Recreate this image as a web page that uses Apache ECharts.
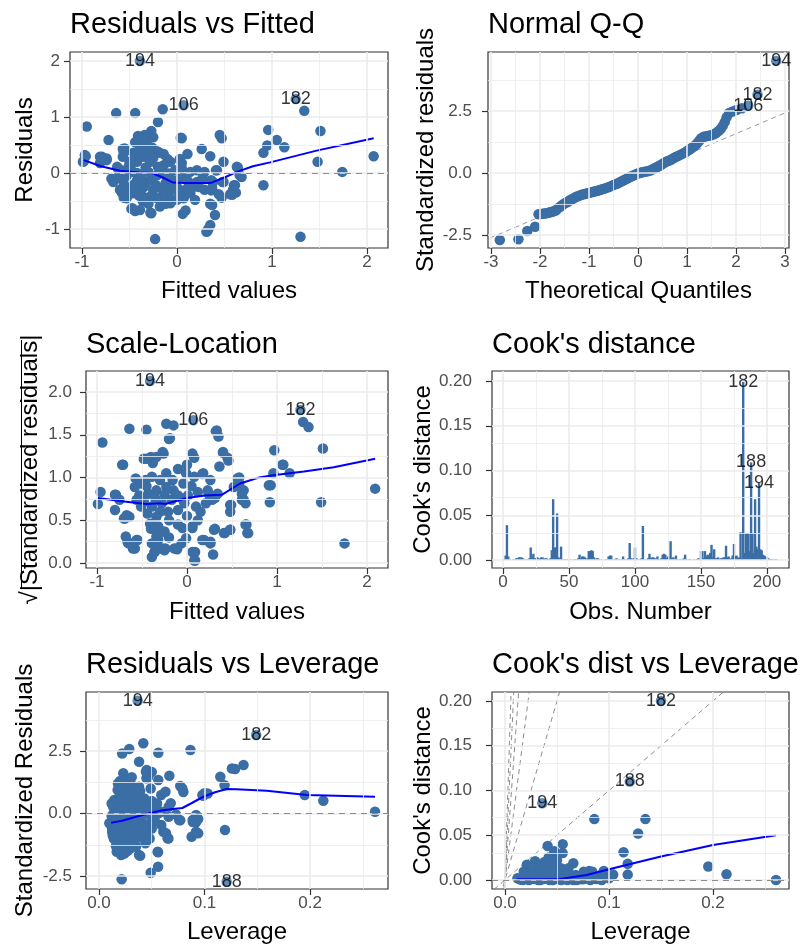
<!DOCTYPE html>
<html><head><meta charset="utf-8">
<script src="https://cdn.jsdelivr.net/npm/echarts@6.0.0/dist/echarts.min.js"></script>
<style>html,body{margin:0;padding:0;background:#fff}#c{width:805px;height:951px}</style>
</head><body><div id="c"></div>
<script>
// ---------- DATA ----------
// Panel 1: Residuals vs Fitted  [fitted, residual]
const rvfPoints = [[-0.95,0.83],[-0.96,0.30],[-0.98,0.21],[-0.99,0.20],[-0.97,0.32],
[-0.64,1.07],[-0.44,1.07],[-0.15,1.14],[-0.20,0.91],[-0.72,0.59],[0.04,0.63],[-0.27,0.75],[-0.25,0.64],[-0.41,0.66],[-0.36,0.64],[-0.34,0.68],
[0.45,0.68],[0.47,0.62],[0.26,0.43],[0.35,0.30],[0.11,0.34],[0.03,0.25],[0.05,0.18],[0.49,0.20],[0.41,0.05],[0.64,0.10],[0.66,-0.04],
[0.38,-0.16],[0.48,-0.16],[0.36,-0.31],[0.60,-0.22],[0.62,-0.35],[0.56,-0.38],[0.44,-0.38],[0.47,-0.44],[0.35,-0.55],[0.40,-0.75],[0.35,-0.93],[0.33,-1.00],[0.32,-1.04],
[-0.23,-1.18],[0.06,-0.73],[0.09,-0.67],[-0.48,-0.64],[-0.44,-0.68],[-0.27,-0.72],[-0.36,-0.50],[-0.56,-0.44],[-0.54,-0.26],[-0.68,-0.11],[-0.63,-0.09],
[-0.81,0.29],[-0.81,0.18],[-0.74,0.26],[-0.55,0.44],[-0.56,0.36],[-0.42,0.35],[-0.36,0.47],[-0.32,0.29],[-0.63,0.11],[-0.49,0.11],[-0.60,0.06],
[0.96,0.77],[1.05,0.59],[0.95,0.49],[0.91,0.36],[1.13,0.46],[1.51,0.75],[1.34,1.11],[1.48,0.20],[1.74,0.02],[2.07,0.30],[0.91,-0.22],[1.30,-1.14],
[-0.57,0.43],[-0.39,0.47],[-0.32,0.54],[-0.26,0.45],[-0.18,0.36],[-0.14,0.34],[-0.21,0.39],[-0.46,0.36],[-0.36,0.29],[-0.42,0.20],[-0.57,0.29],[-0.79,0.29],[-0.74,0.23],
[0.05,0.62],[0.03,0.23],[0.05,0.09],[0.21,0.05],[0.29,0.02],[0.27,-0.09],[0.37,-0.27],[0.36,-0.13],[0.42,0.05],[0.63,0.11],[0.68,-0.07],[0.49,-0.16],[0.61,-0.22],[0.59,-0.30],[0.58,-0.39],[0.37,-0.57],[0.31,-1.05],
[-0.47,-0.63],[-0.39,-0.66],[-0.28,-0.71],[-0.18,-0.60],[-0.32,-0.51],[-0.53,-0.45],[-0.51,-0.27],[-0.67,-0.16],[-0.69,-0.10],[-0.62,-0.07],[-0.53,-0.05],[-0.42,0.0],[-0.30,0.02],[-0.21,-0.04],[-0.11,-0.07],[-0.04,-0.13],[0.00,-0.25],[-0.07,-0.30],[-0.14,-0.36],[-0.25,-0.30],[-0.35,-0.25],[-0.42,-0.30],[-0.47,-0.36],[-0.36,-0.42],[-0.21,-0.45],[-0.07,-0.45],[0.07,-0.45],[0.09,-0.30],[0.14,-0.36],[0.17,-0.25],[0.23,-0.25],[0.12,-0.16],[0.21,-0.16],[0.29,-0.30],[0.19,-0.48],[0.00,-0.48],[-0.07,-0.54],[-0.18,-0.48],[-0.28,-0.42],[-0.32,-0.16],[-0.42,-0.13],[-0.56,-0.19],[-0.60,-0.30],[-0.20,0.11],[-0.14,0.14],[-0.07,0.20],[-0.28,0.20],[-0.25,0.27],[-0.51,0.11],[-0.46,0.02],[-0.62,0.08],[-0.09,-0.01],[0.14,0.02],[0.04,-0.07],
[-0.45,-0.20],[-0.38,-0.05],[-0.33,0.10],[-0.27,-0.10],[-0.22,-0.22],[-0.17,0.05],[-0.12,-0.18],[-0.10,0.25],[-0.02,0.05],[0.02,-0.35],[-0.50,0.20],[-0.44,0.55],[-0.30,0.40],[-0.15,-0.30],[-0.05,-0.20],[0.10,-0.10],[-0.58,-0.35],[-0.40,-0.40],[-0.30,-0.55],[-0.12,-0.55]];
const rvfSmooth = [[-0.98,0.23],[-0.8,0.12],[-0.6,0.04],[-0.4,0.01],[-0.26,0.0],[-0.15,-0.08],[-0.04,-0.17],[0.08,-0.18],[0.35,-0.18],[0.5,-0.08],[0.63,0.02],[0.8,0.12],[0.98,0.19],[1.47,0.40],[2.07,0.62]];
const rvfLabels = [[-0.39,2.0,'194'],[0.07,1.21,'106'],[1.25,1.32,'182']];

// Panel 2: Normal Q-Q  [theoretical, standardized residual]
const qqPoints = [[-2.82,-2.70],[-2.44,-2.67],[-2.26,-2.34],[-2.10,-2.17],
[-2.03,-1.66],[-1.99,-1.65],[-1.95,-1.64],[-1.91,-1.63],[-1.87,-1.62],[-1.83,-1.60],[-1.79,-1.58],[-1.75,-1.56],[-1.71,-1.53],[-1.67,-1.50],
[-1.63,-1.42],[-1.59,-1.36],[-1.55,-1.30],[-1.51,-1.24],[-1.47,-1.20],[-1.43,-1.16],[-1.39,-1.10],[-1.35,-1.06],[-1.31,-1.02],[-1.27,-0.97],[-1.23,-0.94],[-1.19,-0.91],[-1.15,-0.88],[-1.11,-0.86],[-1.07,-0.84],[-1.03,-0.82],[-0.99,-0.80],[-0.95,-0.78],[-0.91,-0.76],[-0.87,-0.74],[-0.83,-0.72],[-0.79,-0.70],[-0.75,-0.67],[-0.71,-0.64],[-0.67,-0.62],[-0.63,-0.59],[-0.59,-0.56],[-0.55,-0.53],[-0.51,-0.49],[-0.47,-0.46],[-0.43,-0.43],[-0.39,-0.39],[-0.35,-0.35],[-0.31,-0.31],[-0.27,-0.27],[-0.23,-0.23],[-0.19,-0.19],[-0.15,-0.15],[-0.11,-0.11],[-0.07,-0.08],[-0.03,-0.04],[0.01,-0.01],[0.05,0.01],[0.09,0.03],[0.13,0.05],[0.17,0.06],[0.21,0.08],[0.25,0.10],[0.29,0.14],[0.33,0.18],[0.37,0.22],[0.41,0.26],[0.45,0.30],[0.49,0.35],[0.53,0.40],[0.57,0.45],[0.61,0.48],[0.65,0.51],[0.69,0.55],[0.73,0.60],[0.77,0.65],[0.81,0.68],[0.85,0.72],[0.89,0.76],[0.93,0.80],[0.97,0.84],[1.01,0.90],[1.05,0.95],[1.09,1.00],[1.13,1.06],[1.17,1.12],[1.21,1.20],[1.25,1.30],[1.29,1.40],[1.34,1.46],[1.39,1.48],[1.44,1.50],[1.49,1.52],[1.55,1.56],[1.60,1.62],[1.65,1.70],[1.69,1.78],[1.73,1.90],[1.77,2.05],[1.81,2.25],[1.86,2.42],[1.93,2.48],[2.01,2.54],[2.12,2.61]];
const qqRefLine = [[-3.2,-2.77],[3.2,2.59]];
const qqLabels = [[2.25,2.71,'106'],[2.44,3.16,'182'],[2.82,4.52,'194']];

// Panel 3: Scale-Location [fitted, sqrt(|std resid|)]
const slPoints = [[1.29,1.65],[1.35,1.59],[1.51,1.34],[0.97,1.32],[1.06,1.15],[1.14,1.05],[0.96,1.05],[0.93,0.91],[0.92,0.71],[1.49,0.71],[2.09,0.87],[1.75,0.23],
[-0.94,1.41],[-0.96,0.83],[-0.99,0.69],[-0.64,1.57],[-0.45,1.56],[-0.71,1.15],[-0.80,0.80],[-0.80,0.62],[-0.69,0.52],[-0.67,0.56],[-0.65,0.23],[-0.56,0.27],[-0.58,0.17],[-0.39,0.07],[-0.36,0.13],
[-0.23,1.63],[-0.15,1.61],[-0.19,1.46],[-0.26,1.28],[-0.40,1.24],[-0.48,1.22],[0.06,1.28],[0.08,1.23],[0.33,1.55],[0.35,1.48],[0.36,1.13],[0.40,1.30],[0.45,1.23],[0.46,1.20],[0.18,1.05],[0.58,1.0],[0.56,0.90],[0.63,0.85],[0.63,0.74],[0.65,0.70],[0.66,0.45],[0.68,0.35],[0.48,0.68],[0.48,0.60],[0.48,0.39],[0.42,0.35],[0.31,0.40],[0.29,0.10],[0.26,0.25],[0.19,0.27],[0.09,0.13],[0.09,0.03],[0.06,0.41],[0.31,0.76],[0.24,0.81],[-0.06,0.23],[-0.11,0.16],[-0.24,0.17],[-0.32,0.27],[-0.30,0.17],
[-0.34,1.24],[-0.38,1.17],[-0.57,0.99],[-0.51,0.93],[-0.58,0.89],[-0.46,0.97],[-0.39,1.01],[-0.30,0.97],[-0.23,1.05],[-0.16,0.97],[-0.01,1.05],[0.08,1.01],[0.17,1.04],[0.26,0.97],[-0.04,0.93],[-0.23,0.89],[-0.34,0.85],[-0.43,0.81],[-0.53,0.79],[-0.56,0.74],[-0.79,0.80],[-0.75,0.74],[-0.70,0.52],[-0.64,0.54],[-0.51,0.66],[-0.44,0.58],[-0.39,0.66],[-0.28,0.70],[-0.17,0.74],[-0.10,0.79],[0.01,0.79],[0.12,0.83],[0.23,0.85],[0.34,0.81],[0.28,0.74],[0.21,0.70],[0.10,0.66],[-0.03,0.70],[-0.10,0.62],[-0.21,0.60],[-0.34,0.54],[-0.41,0.46],[-0.32,0.43],[-0.25,0.37],[-0.34,0.31],[-0.39,0.23],[-0.27,0.17],[-0.12,0.17],[-0.01,0.29],[-0.05,0.41],[0.06,0.43],[0.06,0.13],[0.08,0.03],[0.17,0.27],[0.26,0.23],[0.30,0.39],[0.41,0.35],[0.48,0.39],[0.65,0.45],[0.67,0.35],[0.49,0.68],[0.61,0.74],[0.61,0.81],[0.56,0.99],[0.58,0.93],[0.52,0.89],[0.91,0.91],[1.07,1.15],[-0.66,0.25],[-0.55,0.27],[-0.60,0.17],[-0.68,0.31],[-0.36,0.13],[-0.25,0.15],[-0.14,0.17],[-0.20,1.45],[0.32,1.54],[0.40,1.29],[-0.27,1.30],[-0.45,1.22],[-0.72,1.15],
[-0.45,0.90],[-0.35,0.75],[-0.25,0.80],[-0.15,0.85],[-0.05,0.75],[0.05,0.90],[-0.30,0.60],[-0.20,0.50],[-0.10,0.45],[0.00,0.55],[0.15,0.60],[-0.40,0.40],[-0.30,0.35],[-0.20,0.30],[-0.48,0.72],[-0.10,1.10],[0.00,1.15],[0.12,0.50]];
const slSmooth = [[-0.99,0.76],[-0.7,0.72],[-0.45,0.69],[-0.3,0.70],[-0.24,0.69],[0.0,0.76],[0.2,0.79],[0.39,0.80],[0.59,0.93],[0.8,1.0],[0.98,1.03],[1.3,1.07],[1.63,1.12],[2.09,1.22]];
const slLabels = [[-0.41,2.13,'194'],[0.07,1.67,'106'],[1.26,1.79,'182']];

// Panel 4: Cook's distance per observation (obs 1..208)
const cookDist = [0.001,0.005,0.039,0.004,0.001,0.000,0.000,0.001,0.000,0.002,
0.002,0.003,0.003,0.003,0.002,0.001,0.000,0.001,0.000,0.002,
0.014,0.003,0.007,0.002,0.002,0.003,0.002,0.001,0.003,0.003,
0.001,0.002,0.002,0.001,0.001,0.002,0.011,0.068,0.014,0.014,
0.052,0.003,0.002,0.015,0.001,0.000,0.001,0.000,0.001,0.000,
0.001,0.000,0.000,0.001,0.001,0.000,0.002,0.006,0.002,0.004,
0.004,0.003,0.001,0.002,0.010,0.010,0.011,0.010,0.003,0.001,
0.002,0.002,0.001,0.000,0.001,0.000,0.000,0.001,0.000,0.004,
0.005,0.005,0.001,0.000,0.001,0.002,0.000,0.001,0.000,0.001,
0.004,0.001,0.000,0.001,0.002,0.019,0.002,0.001,0.002,0.014,
0.002,0.001,0.000,0.001,0.002,0.038,0.001,0.000,0.001,0.002,
0.007,0.002,0.003,0.003,0.002,0.001,0.004,0.001,0.000,0.002,
0.006,0.007,0.006,0.002,0.004,0.001,0.021,0.002,0.003,0.001,
0.005,0.001,0.000,0.001,0.000,0.001,0.002,0.006,0.001,0.000,
0.001,0.001,0.000,0.000,0.001,0.000,0.001,0.002,0.001,0.010,
0.010,0.002,0.010,0.004,0.006,0.005,0.008,0.017,0.003,0.012,
0.002,0.002,0.003,0.001,0.002,0.002,0.003,0.003,0.016,0.003,
0.004,0.001,0.002,0.005,0.018,0.004,0.005,0.002,0.003,0.031,
0.002,0.199,0.008,0.030,0.030,0.030,0.010,0.109,0.030,0.008,
0.068,0.015,0.012,0.086,0.012,0.011,0.006,0.005,0.004,0.003,
0.002,0.001,0.001,0.001,0.000,0.001,0.001,0.000];
const cookLabelObs = [182, 188, 194];

// Panel 5: Residuals vs Leverage [leverage, std residual]
const rvlPoints = [[0.042,2.81],[0.0287,2.58],[0.022,2.40],[0.0562,2.43],[0.0867,2.54],[0.038,2.07],[0.137,1.94],[0.129,1.78],[0.115,1.47],[0.119,1.13],[0.0667,1.51],[0.0562,1.34],[0.0452,1.74],[0.050,1.66],[0.023,1.61],[0.031,1.45],[0.0465,1.45],[0.077,1.10],[0.080,0.86],[0.079,1.00],[0.0989,0.71],[0.103,0.80],[0.195,0.74],[0.2126,0.51],[0.2616,0.07],[0.1194,-0.66],[0.094,-0.22],[0.092,-0.35],[0.089,-0.34],[0.0878,-0.93],[0.094,-0.79],[0.077,-0.27],[0.0658,-1.0],[0.061,-0.73],[0.056,-1.55],[0.056,-2.13],[0.049,-2.37],[0.0215,-2.63],[0.039,-1.69],[0.0168,-1.53],
[0.0445,1.67],[0.027,1.27],[0.045,1.41],[0.126,1.80],[0.098,0.74],[0.0177,0.94],[0.0145,0.54],[0.0135,0.27],[0.014,0.0],[0.0098,-0.39],[0.0125,-0.6],[0.013,-0.87],[0.0177,-1.19],[0.0177,-1.45],[0.021,-1.66],[0.038,-1.66],[0.0556,-1.53],[0.0635,-0.79],[0.065,-0.99],[0.092,-0.73],[0.0888,-0.26],[0.092,-0.06],[0.10,0.81],[0.073,-0.04],[0.076,-0.26],[0.066,0.27],[0.059,0.74],[0.063,0.87],[0.052,0.27],[0.044,0.0],[0.038,-0.13],[0.031,0.47],[0.025,0.34],[0.019,0.0],[0.022,-0.53],[0.028,-0.26],[0.035,-0.66],[0.028,-1.06],[0.024,-1.39],[0.019,-0.93],[0.041,-0.93],[0.045,-0.46],[0.050,-0.19],[0.056,0.0],[0.035,0.07],[0.028,0.94],[0.024,1.14],[0.033,1.0],[0.038,1.07],[0.049,1.0],[0.017,-0.19],[0.017,0.41],[0.02,0.74],[0.025,0.07],[0.031,0.0],[0.042,-0.01],[0.038,0.41],[0.044,0.34],[0.052,-0.06],[0.059,0.07],[0.066,-0.13],[0.068,0.41],[0.0125,-0.73],[0.025,-0.6],[0.033,-0.93],[0.044,-1.19],[0.035,-1.33],[0.030,-1.39],[0.017,-0.99],[0.021,-1.19],[0.035,-0.26],[0.041,-0.53],[0.050,-0.60],[0.059,-0.46],[0.028,0.0],[0.021,0.14],[0.031,0.34],
[0.012,-0.10],[0.015,-0.30],[0.016,0.20],[0.018,-0.60],[0.020,-0.40],[0.020,0.50],[0.022,-0.10],[0.023,-0.80],[0.025,0.60],[0.026,-0.45],[0.027,0.20],[0.028,-0.70],[0.030,0.80],[0.030,-0.10],[0.032,-0.50],[0.033,0.20],[0.034,-1.10],[0.036,0.60],[0.037,-0.30],[0.039,0.90],[0.040,-0.80],[0.040,0.10],[0.042,-0.40],[0.043,0.60],[0.046,-0.70],[0.047,0.20],[0.048,-1.00],[0.050,0.50],[0.053,-0.30],[0.055,0.40],[0.012,0.40],[0.014,-1.00],[0.016,-1.30],[0.018,1.20],[0.020,1.30],[0.022,0.90],[0.024,-1.60],[0.027,-1.50],[0.030,1.20],[0.033,-1.20]];
const rvlSmooth = [[0.0114,-0.37],[0.022,-0.29],[0.0335,-0.15],[0.045,-0.02],[0.0588,0.12],[0.07,0.18],[0.079,0.22],[0.088,0.42],[0.098,0.65],[0.11,0.85],[0.121,0.98],[0.13,0.97],[0.159,0.91],[0.197,0.74],[0.2616,0.67]];
const rvlLabels = [[0.0367,4.51,'194'],[0.149,3.14,'182'],[0.121,-2.73,'188']];

// Panel 6: Cook's distance vs Leverage [leverage, cook's distance]
const cvlPoints = [[0.0859,0.068],[0.135,0.068],[0.128,0.052],[0.114,0.031],[0.118,0.018],[0.118,0.006],[0.1955,0.015],[0.213,0.0064],[0.2606,0.0],
[0.041,0.038],[0.0555,0.040],[0.0475,0.032],[0.0555,0.030],[0.029,0.021],[0.021,0.017],[0.038,0.020],[0.0657,0.0186],[0.046,0.014],[0.054,0.013],[0.081,0.010],[0.095,0.010],[0.104,0.006],
[0.044,0.0153],[0.018,0.0093],[0.026,0.0093],[0.035,0.011],[0.029,0.0037],[0.041,0.0075],[0.051,0.0056],[0.061,0.0075],[0.0757,0.0093],[0.084,0.0093],[0.092,0.0056],[0.098,0.0037],[0.084,0.0019],[0.012,0.0019],[0.017,0.0],[0.023,0.0],[0.032,0.0],[0.043,0.0],[0.054,0.0],[0.066,0.0],[0.074,0.0007],[0.024,0.0056],[0.068,0.0056],[0.051,0.013],[0.061,0.013],[0.014,0.001],[0.02,0.003],[0.028,0.001],[0.036,0.003],[0.047,0.002],[0.058,0.001],[0.063,0.003],[0.07,0.002],[0.078,0.004],[0.088,0.001],[0.093,0.0],[0.1,0.002],[0.097,0.007],
[0.015,0.0005],[0.019,0.002],[0.022,0.004],[0.025,0.002],[0.027,0.006],[0.030,0.002],[0.033,0.006],[0.034,0.0],[0.037,0.001],[0.039,0.005],[0.040,0.009],[0.042,0.003],[0.045,0.006],[0.046,0.0],[0.048,0.009],[0.050,0.001],[0.052,0.004],[0.056,0.007],[0.057,0.002],[0.060,0.0],[0.062,0.005],[0.064,0.001],[0.067,0.003],[0.069,0.0],[0.072,0.004],[0.076,0.001],[0.080,0.003],[0.082,0.0],[0.086,0.004],[0.090,0.002],[0.030,0.013],[0.038,0.013],[0.045,0.018],[0.050,0.022],[0.033,0.016],[0.042,0.025]];
const cvlSmooth = [[0.0112,0.0008],[0.03,0.0009],[0.053,0.0010],[0.0785,0.0056],[0.104,0.013],[0.149,0.026],[0.200,0.039],[0.2606,0.050]];
const cvlContourSlopes = [1, 4, 9, 16, 25, 36];
const cvlLabels = [[0.150,0.200,'182'],[0.120,0.110,'188'],[0.0359,0.0857,'194']];

// Tick values
const ticksFittedX = [-1, 0, 1, 2];
const ticksResidY = [-1, 0, 1, 2];
const ticksQQX = [-3, -2, -1, 0, 1, 2, 3];
const ticksStdY = [-2.5, 0, 2.5];
const ticksSqrtY = [0, 0.5, 1, 1.5, 2];
const ticksObsX = [0, 50, 100, 150, 200];
const ticksCookY = [0, 0.05, 0.1, 0.15, 0.2];
const ticksLevX = [0, 0.1, 0.2];

// ---------- STYLE / LAYOUT ----------
const FONT = '"Liberation Sans", Arial, Helvetica, sans-serif';
const PT = '#3A6EA5';
const GRIDC = '#EBEBEB';
function minors(t, lo, hi) {
  const out = []; const step = t[1] - t[0];
  for (let v = t[0] - step / 2; v <= hi; v += step) if (v >= lo && !t.some(q => Math.abs(q - v) < 1e-9)) out.push(+v.toFixed(6));
  return out;
}
const panels = [
  {left:70, top:52, width:318, height:196, xr:[-1.126,2.221], yr:[-1.339,2.161], xt:ticksFittedX, yt:ticksResidY, xd:0, yd:0,
   title:'Residuals vs Fitted', tTop:10, xname:'Fitted values', yname:'Residuals', xGap:31, yGap:33, yMargin:10},
  {left:488, top:52, width:301, height:196, xr:[-3.061,3.082], yr:[-3.024,4.879], xt:ticksQQX, yt:ticksStdY, xd:0, yd:1,
   title:'Normal Q-Q', tTop:10, xname:'Theoretical Quantiles', yname:'Standardized residuals', xGap:31, yGap:50, yMargin:16},
  {left:86, top:371, width:302, height:197, xr:[-1.122,2.233], yr:[-0.058,2.246], xt:ticksFittedX, yt:ticksSqrtY, xd:0, yd:1,
   title:'Scale-Location', tTop:330, xname:'Fitted values', yname:'√|Standardized residuals|', xGap:32, yGap:44, yMargin:14},
  {left:492, top:371, width:297, height:197, xr:[-8.33,216.7], yr:[-0.0089,0.2112], xt:ticksObsX, yt:ticksCookY, xd:0, yd:2,
   title:"Cook's distance", tTop:330, xname:'Obs. Number', yname:"Cook's distance", xGap:32, yGap:54, yMargin:20},
  {left:86, top:692, width:302, height:197, xr:[-0.0123,0.2739], yr:[-3.02,4.86], xt:ticksLevX, yt:ticksStdY, xd:1, yd:1,
   title:'Residuals vs Leverage', tTop:650, xname:'Leverage', yname:'Standardized Residuals', xGap:31, yGap:49, yMargin:14},
  {left:492, top:692, width:297, height:197, xr:[-0.0125,0.2731], yr:[-0.0101,0.210], xt:ticksLevX, yt:ticksCookY, xd:1, yd:2,
   title:"Cook's dist vs Leverage", tTop:650, xname:'Leverage', yname:"Cook's distance", xGap:31, yGap:54, yMargin:20}
];

const grids = [], xAxes = [], yAxes = [], titles = [], series = [];
panels.forEach((P, i) => {
  grids.push({left:P.left, top:P.top, width:P.width, height:P.height, show:true, borderColor:'#333333', borderWidth:1.2, backgroundColor:'#ffffff'});
  const common = (ticks, d) => ({
    axisLine:{show:false, onZero:false},
    splitLine:{show:false},
    axisTick:{show:true, length:6, lineStyle:{color:'#333333', width:1.2}, customValues:ticks},
    axisLabel:{customValues:ticks, formatter:v => Number(v).toFixed(d), color:'#4D4D4D', fontSize:17, fontFamily:FONT},
    nameLocation:'middle', nameTextStyle:{fontSize:24, color:'#000', fontFamily:FONT}
  });
  const xa = Object.assign(common(P.xt, P.xd), {type:'value', gridIndex:i, min:P.xr[0], max:P.xr[1], name:P.xname, nameGap:P.xGap});
  xa.axisLabel.margin = 6;
  const ya = Object.assign(common(P.yt, P.yd), {type:'value', gridIndex:i, min:P.yr[0], max:P.yr[1], name:P.yname, nameGap:P.yGap});
  ya.axisLabel.margin = P.yMargin;
  xAxes.push(xa); yAxes.push(ya);
  titles.push({text:P.title, left:P.left, top:P.tTop, padding:0, textStyle:{fontSize:29, fontWeight:'normal', color:'#000', fontFamily:FONT}});
  const xm = minors(P.xt, P.xr[0], P.xr[1]), ym = minors(P.yt, P.yr[0], P.yr[1]);
  const gl = [];
  xm.forEach(v => gl.push({xAxis:v, lineStyle:{color:GRIDC, width:0.8, type:'solid'}}));
  ym.forEach(v => gl.push({yAxis:v, lineStyle:{color:GRIDC, width:0.8, type:'solid'}}));
  P.xt.forEach(v => gl.push({xAxis:v, lineStyle:{color:GRIDC, width:1.6, type:'solid'}}));
  P.yt.forEach(v => gl.push({yAxis:v, lineStyle:{color:GRIDC, width:1.6, type:'solid'}}));
  series.push({type:'line', xAxisIndex:i, yAxisIndex:i, data:[], silent:true, z:1,
    markLine:{silent:true, symbol:['none','none'], label:{show:false}, animation:false, data:gl}});
});

function hline0(i) {
  series.push({type:'line', xAxisIndex:i, yAxisIndex:i, data:[], silent:true, z:2,
    markLine:{silent:true, symbol:['none','none'], label:{show:false}, animation:false,
      data:[{yAxis:0, lineStyle:{color:'#8C8C8C', width:1.2, type:[6,5]}}]}});
}
function scatter(i, pts) {
  series.push({type:'scatter', xAxisIndex:i, yAxisIndex:i, data:pts, symbolSize:10.5, itemStyle:{color:PT, opacity:1}, z:3});
}
function smooth(i, pts) {
  series.push({type:'line', xAxisIndex:i, yAxisIndex:i, data:pts, showSymbol:false, symbol:'none', lineStyle:{color:'#0000FF', width:2}, z:4});
}
function labels(i, pts, showDot) {
  series.push({type:'scatter', xAxisIndex:i, yAxisIndex:i, z:5,
    data:pts.map(p => ({value:[p[0], p[1]], name:p[2]})),
    symbolSize: showDot ? 10.5 : 1,
    itemStyle:{color: showDot ? PT : 'rgba(0,0,0,0)'},
    label:{show:true, position:'inside', formatter:'{b}', color:'#000', fontSize:18, fontFamily:FONT}});
}

// Panel 1
hline0(0); scatter(0, rvfPoints); smooth(0, rvfSmooth); labels(0, rvfLabels, true);
// Panel 2
series.push({type:'line', xAxisIndex:1, yAxisIndex:1, data:qqRefLine, showSymbol:false, symbol:'none', z:2, clip:true,
  lineStyle:{color:'#999999', width:1, type:[5,4]}});
scatter(1, qqPoints); labels(1, qqLabels, true);
// Panel 3
scatter(2, slPoints); smooth(2, slSmooth); labels(2, slLabels, true);
// Panel 4
series.push({type:'bar', xAxisIndex:3, yAxisIndex:3, data:cookDist.map((v, k) => [k + 1, v]), barWidth:2.4, itemStyle:{color:PT}, z:3});
labels(3, cookLabelObs.map(o => [o, cookDist[o - 1], String(o)]), false);
// Panel 5
hline0(4); scatter(4, rvlPoints); smooth(4, rvlSmooth); labels(4, rvlLabels, true);
// Panel 6
cvlContourSlopes.forEach(s => {
  series.push({type:'line', xAxisIndex:5, yAxisIndex:5, data:[[-0.05, -0.05 * s], [0.3, 0.3 * s]], showSymbol:false, symbol:'none', z:2, clip:true,
    lineStyle:{color:'#7F7F7F', width:0.9, type:[5,4]}});
});
hline0(5); scatter(5, cvlPoints); smooth(5, cvlSmooth); labels(5, cvlLabels, true);

const chart = echarts.init(document.getElementById('c'), null, {renderer:'canvas'});
chart.setOption({
  animation:false,
  backgroundColor:'#ffffff',
  textStyle:{fontFamily:FONT},
  title:titles, grid:grids, xAxis:xAxes, yAxis:yAxes, series:series,
  graphic:[{type:'line', shape:{x1:21.5, y1:340, x2:21.5, y2:588}, style:{stroke:'#000', lineWidth:1}, z:10}]
});
</script></body></html>
